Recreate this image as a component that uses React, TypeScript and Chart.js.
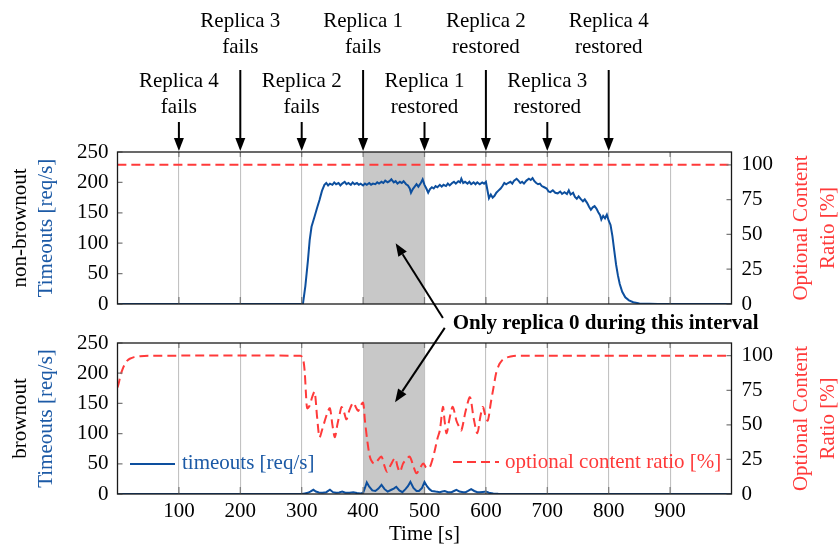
import React, { useEffect, useRef } from 'react';
import { Chart, registerables } from 'chart.js';

Chart.register(...registerables);

// ---------------- data ----------------
const X_TICKS = [100, 200, 300, 400, 500, 600, 700, 800, 900];
const LEFT_TICKS = [0, 50, 100, 150, 200, 250];
const RIGHT_TICKS = [0, 25, 50, 75, 100];

const INTERVAL = [400, 500];
const INTERVAL_LABEL = 'Only replica 0 during this interval';

const EVENT_TIMES = [100, 200, 300, 400, 500, 600, 700, 800];
const EVENT_LINE1 = ['Replica 4', 'Replica 3', 'Replica 2', 'Replica 1', 'Replica 1', 'Replica 2', 'Replica 3', 'Replica 4'];
const EVENT_LINE2 = ['fails', 'fails', 'fails', 'fails', 'restored', 'restored', 'restored', 'restored'];

// non-brownout: timeouts [req/s]
const NB_TIMEOUT_T = [0, 300, 302, 306, 310, 313, 316, 321, 325, 329, 333, 337, 340, 343, 346, 350, 353, 356, 360, 363, 366, 370, 373, 376, 380, 383, 386, 390, 393, 396, 400, 403, 406, 410, 413, 416, 420, 423, 426, 430, 433, 436, 440, 443, 446, 450, 453, 456, 460, 463, 466, 470, 473, 476, 478, 481, 484, 487, 490, 494, 497, 500, 503, 506, 509, 512, 515, 518, 521, 525, 528, 531, 535, 538, 541, 545, 548, 551, 555, 558, 560, 563, 566, 570, 573, 576, 580, 583, 586, 590, 594, 597, 600, 602, 605, 608, 611, 614, 617, 620, 624, 627, 630, 633, 636, 640, 643, 646, 650, 653, 656, 659, 662, 666, 670, 673, 676, 679, 682, 685, 688, 691, 695, 699, 702, 705, 709, 713, 717, 721, 724, 728, 732, 735, 738, 742, 745, 748, 751, 755, 758, 761, 765, 768, 771, 774, 777, 780, 783, 786, 788, 791, 794, 797, 800, 803, 806, 809, 812, 815, 818, 822, 827, 833, 840, 850, 866, 880, 1000];
const NB_TIMEOUT_V = [0, 0, 0, 30, 70, 105, 127, 144, 158, 171, 186, 196, 199, 195, 198, 196, 200, 197, 199, 195, 198, 201, 197, 199, 196, 200, 197, 199, 196, 198, 195, 198, 196, 199, 196, 198, 197, 200, 198, 201, 199, 203, 200, 202, 205, 200, 202, 198, 201, 199, 202, 197, 195, 190, 183, 189, 193, 197, 193, 199, 205, 196, 190, 183, 189, 192, 190, 194, 192, 196, 193, 196, 194, 198, 195, 199, 201, 198, 202, 200, 206, 199, 201, 198, 201, 197, 200, 197, 200, 197, 200, 198, 201, 190, 174, 180, 175, 178, 183, 186, 190, 194, 199, 197, 199, 201, 198, 203, 206, 203, 199, 201, 198, 203, 206, 204, 207, 202, 199, 197, 198, 194, 192, 190, 185, 184, 187, 183, 182, 185, 181, 184, 181, 187, 180, 183, 176, 173, 177, 172, 169, 172, 166, 160, 155, 159, 161, 157, 151, 146, 139, 145, 141, 147, 137, 130, 112, 88, 65, 47, 33, 20, 11, 6, 3, 1, 0.3, 0, 0];

// non-brownout: optional content ratio [%]
const NB_RATIO_T = [0, 1000];
const NB_RATIO_V = [100, 100];

// brownout: timeouts [req/s]
const BO_TIMEOUT_T = [0, 300, 305, 310, 314, 319, 323, 328, 334, 340, 346, 351, 356, 361, 366, 371, 378, 384, 390, 396, 400, 403, 406, 410, 415, 420, 425, 430, 435, 440, 446, 450, 454, 459, 464, 469, 473, 477, 482, 487, 491, 496, 500, 504, 508, 512, 518, 525, 529, 533, 538, 544, 548, 552, 557, 563, 567, 571, 576, 581, 586, 590, 595, 600, 605, 612, 620, 635, 1000];
const BO_TIMEOUT_V = [0, 0, 1, 2, 4, 7, 4, 2.5, 2, 3, 7, 3, 2, 2.5, 4, 2, 2, 3, 1.5, 1, 2, 10, 19, 12, 6, 5, 9, 15, 8, 4, 7, 9, 12, 6, 3, 8, 13, 20, 10, 5, 5, 10, 20, 13, 8, 5, 4, 3, 4, 5, 3, 3, 5, 7, 4, 3, 3, 5, 8, 5, 3, 3, 3.5, 4, 2, 1, 0.5, 0, 0];

// brownout: optional content ratio [%]
const BO_RATIO_T = [0, 2, 5, 8, 12, 16, 20, 27, 37, 50, 298, 301, 303, 305, 307, 309, 313, 317, 321, 325, 329, 333, 337, 342, 346, 350, 354, 358, 362, 365, 369, 373, 378, 384, 388, 392, 396, 400, 403, 407, 411, 415, 419, 425, 430, 435, 439, 445, 452, 456, 460, 465, 470, 476, 482, 487, 493, 498, 503, 508, 513, 517, 521, 525, 530, 533, 536, 541, 546, 552, 556, 560, 567, 574, 580, 586, 591, 595, 599, 603, 608, 612, 617, 622, 626, 630, 636, 645, 655, 1000];
const BO_RATIO_V = [77, 80, 86, 90, 94, 96.5, 97.8, 99, 99.7, 100, 100, 99, 96, 88, 72, 62, 64, 70, 74, 56, 41, 46, 52, 59, 62, 50, 41, 50, 58, 63, 59, 54, 61, 66, 63, 60, 64, 66, 53, 38, 27, 23, 22, 25, 27, 20, 16, 21, 26, 20, 16, 22, 25, 27, 20, 15, 19, 22, 19, 19, 25, 32, 40, 46, 63, 52, 44, 55, 63, 53, 49, 46, 60, 70, 55, 44, 56, 63, 57, 53, 66, 76, 88, 94, 96.5, 97.8, 99, 99.8, 100, 100];

// ---------------- styles ----------------
const FAMILY = '"Liberation Serif", "Times New Roman", Times, serif';
const FS = 21;
const FONT = `${FS}px ${FAMILY}`;
const BOLD = `bold ${FS}px ${FAMILY}`;
const BLUE = '#0d4f9e';
const BLUE_TEXT = '#1c5aa6';
const RED = '#ff3a3a';
const GRID = '#c2c2c2';
const SHADE = '#c8c8c8';
const W = 840;
const H = 547;

const pts = (xs: number[], ys: number[]) => xs.map((x, i) => ({ x, y: ys[i] }));

function drawArrow(ctx: CanvasRenderingContext2D, x1: number, y1: number, x2: number, y2: number, head = 13, half = 5, lw = 2) {
  const ang = Math.atan2(y2 - y1, x2 - x1);
  const bx = x2 - head * Math.cos(ang);
  const by = y2 - head * Math.sin(ang);
  ctx.save();
  ctx.strokeStyle = '#000';
  ctx.fillStyle = '#000';
  ctx.lineWidth = lw;
  ctx.beginPath();
  ctx.moveTo(x1, y1);
  ctx.lineTo(bx, by);
  ctx.stroke();
  ctx.beginPath();
  ctx.moveTo(x2, y2);
  ctx.lineTo(bx + half * Math.sin(ang), by - half * Math.cos(ang));
  ctx.lineTo(bx - half * Math.sin(ang), by + half * Math.cos(ang));
  ctx.closePath();
  ctx.fill();
  ctx.restore();
}

function vText(ctx: CanvasRenderingContext2D, text: string, x: number, y: number, color: string) {
  ctx.save();
  ctx.translate(x, y);
  ctx.rotate(-Math.PI / 2);
  ctx.fillStyle = color;
  ctx.font = FONT;
  ctx.textAlign = 'center';
  ctx.textBaseline = 'middle';
  ctx.fillText(text, 0, 0);
  ctx.restore();
}

function panelPlugin(id: string, panelName: string, isBottom: boolean) {
  return {
    id,
    beforeDraw(chart: any) {
      const { ctx, chartArea } = chart;
      const x = chart.scales.x;
      const x0 = x.getPixelForValue(INTERVAL[0]);
      const x1 = x.getPixelForValue(INTERVAL[1]);
      ctx.save();
      ctx.fillStyle = SHADE;
      ctx.fillRect(x0, chartArea.top, x1 - x0, chartArea.bottom - chartArea.top);
      ctx.restore();
    },
    afterDraw(chart: any) {
      const { ctx, chartArea } = chart;
      const { left, right, top, bottom } = chartArea;
      const x = chart.scales.x;
      const y = chart.scales.y;
      const y1 = chart.scales.y1;
      ctx.save();
      // inward tick marks
      ctx.strokeStyle = '#7a7a7a';
      ctx.lineWidth = 1.2;
      ctx.beginPath();
      X_TICKS.forEach((t) => {
        const px = x.getPixelForValue(t);
        ctx.moveTo(px, bottom);
        ctx.lineTo(px, bottom - 7);
        ctx.moveTo(px, top);
        ctx.lineTo(px, top + 5);
      });
      LEFT_TICKS.forEach((v) => {
        const py = y.getPixelForValue(v);
        ctx.moveTo(left, py);
        ctx.lineTo(left + 5, py);
      });
      RIGHT_TICKS.forEach((v) => {
        const py = y1.getPixelForValue(v);
        ctx.moveTo(right, py);
        ctx.lineTo(right - 5, py);
      });
      ctx.stroke();
      // frame
      ctx.strokeStyle = '#1a1a1a';
      ctx.lineWidth = 1.3;
      ctx.strokeRect(left, top, right - left, bottom - top);
      ctx.restore();

      // axis titles
      const cy = (top + bottom) / 2;
      vText(ctx, panelName, left - 97.5, cy, '#000');
      vText(ctx, 'Timeouts [req/s]', left - 71.5, cy, BLUE_TEXT);
      vText(ctx, 'Optional Content', right + 69.5, cy, RED);
      vText(ctx, 'Ratio [%]', right + 96.5, cy, RED);

      if (!isBottom) {
        // event annotations
        ctx.save();
        ctx.font = FONT;
        ctx.fillStyle = '#000';
        ctx.textAlign = 'center';
        ctx.textBaseline = 'alphabetic';
        EVENT_TIMES.forEach((t, i) => {
          const px = x.getPixelForValue(t);
          const upper = i % 2 === 1;
          const b1 = upper ? top - 125 : top - 65;
          ctx.fillText(EVENT_LINE1[i], px, b1);
          ctx.fillText(EVENT_LINE2[i], px, b1 + 26);
          drawArrow(ctx, px, upper ? top - 82 : top - 30, px, top - 1, 13, 5, 2);
        });
        ctx.restore();
        // interval label
        ctx.save();
        ctx.font = BOLD;
        ctx.fillStyle = '#000';
        ctx.textAlign = 'left';
        ctx.textBaseline = 'alphabetic';
        ctx.fillText(INTERVAL_LABEL, x.getPixelForValue(546), bottom + 25);
        ctx.restore();
        drawArrow(ctx, x.getPixelForValue(530), y.getPixelForValue(-23), x.getPixelForValue(453), y.getPixelForValue(100), 13, 5, 2);
      } else {
        drawArrow(ctx, x.getPixelForValue(533), y.getPixelForValue(275), x.getPixelForValue(452), y.getPixelForValue(152), 13, 5, 2);
        // legend
        ctx.save();
        const ly = bottom - 30;
        ctx.lineWidth = 2;
        ctx.strokeStyle = BLUE;
        ctx.beginPath();
        ctx.moveTo(left + 12.5, ly);
        ctx.lineTo(left + 57.5, ly);
        ctx.stroke();
        ctx.font = FONT;
        ctx.textAlign = 'left';
        ctx.textBaseline = 'middle';
        ctx.fillStyle = BLUE_TEXT;
        ctx.fillText('timeouts [req/s]', left + 64.5, ly - 1);
        ctx.strokeStyle = RED;
        ctx.setLineDash([9, 5]);
        ctx.beginPath();
        ctx.moveTo(left + 335.5, ly - 2);
        ctx.lineTo(left + 381.5, ly - 2);
        ctx.stroke();
        ctx.setLineDash([]);
        ctx.fillStyle = RED;
        ctx.fillText('optional content ratio [%]', left + 387.5, ly - 2);
        // x title
        ctx.fillStyle = '#000';
        ctx.textAlign = 'center';
        ctx.textBaseline = 'alphabetic';
        ctx.fillText('Time [s]', (left + right) / 2, bottom + 46);
        ctx.restore();
      }
    },
  };
}

function makeConfig(timeoutT: number[], timeoutV: number[], ratioT: number[], ratioV: number[], isBottom: boolean, name: string): any {
  return {
    type: 'line',
    data: {
      datasets: [
        {
          label: 'timeouts [req/s]',
          data: pts(timeoutT, timeoutV),
          yAxisID: 'y',
          borderColor: BLUE,
          borderWidth: 2,
          pointRadius: 0,
          tension: 0,
          fill: false,
        },
        {
          label: 'optional content ratio [%]',
          data: pts(ratioT, ratioV),
          yAxisID: 'y1',
          borderColor: RED,
          borderWidth: 2,
          borderDash: [9, 5],
          pointRadius: 0,
          tension: 0.3,
          fill: false,
        },
      ],
    },
    options: {
      responsive: false,
      animation: false,
      devicePixelRatio: 1,
      events: [],
      layout: {
        padding: isBottom
          ? { left: 57.5, right: 48.5, top: 343, bottom: 23 }
          : { left: 57.5, right: 48.5, top: 152, bottom: 243 },
      },
      plugins: { legend: { display: false }, tooltip: { enabled: false } },
      scales: {
        x: {
          type: 'linear',
          min: 0,
          max: 1000,
          afterBuildTicks: (s: any) => {
            s.ticks = X_TICKS.map((v) => ({ value: v }));
          },
          afterFit: (s: any) => {
            s.height = isBottom ? 30 : 0;
          },
          grid: { display: true, color: GRID, lineWidth: 1.1, drawTicks: false },
          border: { display: false },
          ticks: {
            display: isBottom,
            autoSkip: false,
            maxRotation: 0,
            padding: 5,
            color: '#000',
            font: { family: FAMILY, size: FS },
          },
        },
        y: {
          type: 'linear',
          position: 'left',
          min: 0,
          max: 250,
          afterBuildTicks: (s: any) => {
            s.ticks = LEFT_TICKS.map((v) => ({ value: v }));
          },
          afterFit: (s: any) => {
            s.width = 60;
          },
          grid: { display: false, drawTicks: false },
          border: { display: false },
          ticks: { padding: 9, color: '#000', font: { family: FAMILY, size: FS } },
        },
        y1: {
          type: 'linear',
          position: 'right',
          min: 0,
          max: 109.2,
          afterBuildTicks: (s: any) => {
            s.ticks = RIGHT_TICKS.map((v) => ({ value: v }));
          },
          afterFit: (s: any) => {
            s.width = 60;
          },
          grid: { display: false, drawTicks: false },
          border: { display: false },
          ticks: { padding: 10, color: '#000', font: { family: FAMILY, size: FS } },
        },
      },
    },
    plugins: [panelPlugin(name, isBottom ? 'brownout' : 'non-brownout', isBottom)],
  };
}

export default function App() {
  const topRef = useRef<HTMLCanvasElement | null>(null);
  const botRef = useRef<HTMLCanvasElement | null>(null);

  useEffect(() => {
    const bot = new Chart(botRef.current as HTMLCanvasElement, makeConfig(BO_TIMEOUT_T, BO_TIMEOUT_V, BO_RATIO_T, BO_RATIO_V, true, 'bottomPanel'));
    const top = new Chart(topRef.current as HTMLCanvasElement, makeConfig(NB_TIMEOUT_T, NB_TIMEOUT_V, NB_RATIO_T, NB_RATIO_V, false, 'topPanel'));
    return () => {
      top.destroy();
      bot.destroy();
    };
  }, []);

  return (
    <div style={{ position: 'absolute', left: 0, top: 0, width: W, height: H, background: '#fff' }}>
      <canvas ref={botRef} width={W} height={H} style={{ position: 'absolute', left: 0, top: 0 }} />
      <canvas ref={topRef} width={W} height={H} style={{ position: 'absolute', left: 0, top: 0 }} />
    </div>
  );
}
